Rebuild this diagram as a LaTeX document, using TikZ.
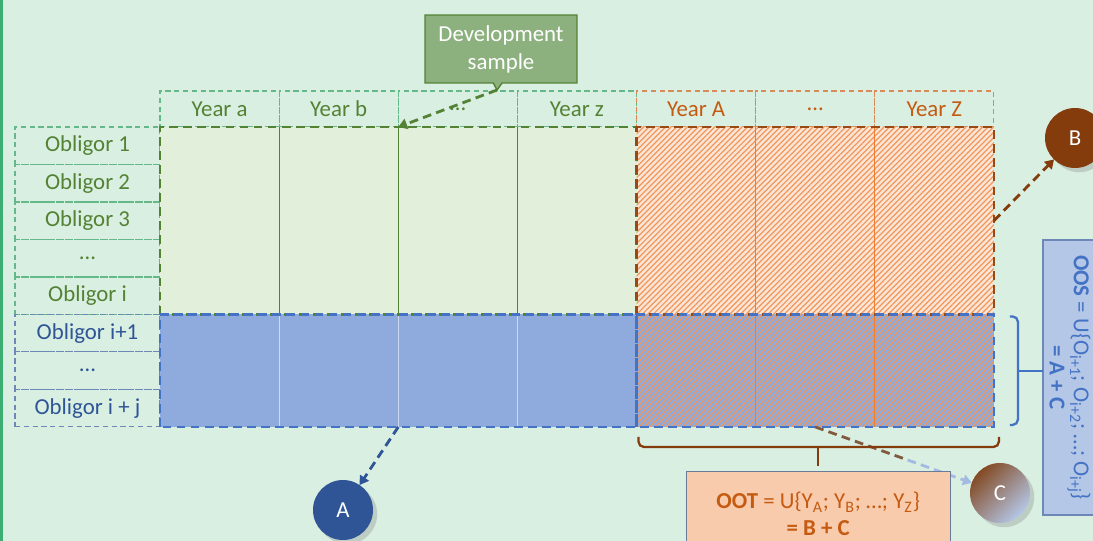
\documentclass[tikz,border=0pt]{standalone}
\usepackage{fontspec}
\setmainfont{Carlito}
\usetikzlibrary{chains,positioning,fit,calc,arrows.meta,patterns.meta,shapes.callouts,shadows}

\definecolor{bgmint}{HTML}{D9EFE1}
\definecolor{stripe}{HTML}{3DAE72}
\definecolor{grntxt}{HTML}{548235}
\definecolor{grnline}{HTML}{3FA66B}
\definecolor{grnfill}{HTML}{E2EFDA}
\definecolor{devfill}{HTML}{8DB17E}
\definecolor{blufill}{HTML}{8FAADC}
\definecolor{bluline}{HTML}{4472C4}
\definecolor{bludark}{HTML}{2F5597}
\definecolor{oosfill}{HTML}{B4C7E7}
\definecolor{orgtxt}{HTML}{C55A11}
\definecolor{orgline}{HTML}{ED7D31}
\definecolor{orgfill}{HTML}{FBE5D6}
\definecolor{ootfill}{HTML}{F8CBAD}
\definecolor{brn}{HTML}{843C0C}

\begin{document}
\begin{tikzpicture}[
	x=0.02cm, y=-0.02cm,
	every node/.style={font=\fontsize{13}{15}\selectfont, inner sep=0pt, outer sep=0pt},
	node distance=0pt,
	hdr/.style={
		on chain, draw,
		dash pattern=on 3pt off 2pt, line width=0.6pt,
		minimum width=2.383cm, minimum height=0.72cm,
	},
	yeargrn/.style={hdr, draw=grnline!80, text=grntxt},
	yearorg/.style={hdr, draw=orgtxt!70, text=orgtxt},
	obl/.style={
		on chain, draw,
		dash pattern=on 3pt off 2pt, line width=0.6pt,
		minimum width=2.9cm, minimum height=0.75cm,
	},
	oblgrn/.style={obl, draw=grnline!80, text=grntxt},
	oblblu/.style={obl, draw=bludark!70, text=bludark},
	region/.style={fit=#1, inner sep=0pt},
	rimline/.style={dash pattern=on 5pt off 3pt, line width=1.4pt},
	hatch/.style={pattern={Lines[angle=45,distance=2.2pt,line width=0.7pt]}, pattern color=orgline!80},
	circ/.style={circle, minimum size=1.2cm, text=white, drop shadow={opacity=0.3}},
	ptr/.style={dash pattern=on 5pt off 3pt, line width=1.6pt, -{Triangle[length=5pt,width=6pt]}},
	bracketline/.style={line width=1.3pt, rounded corners=3pt},
]

\useasboundingbox (0,0) rectangle (1093,541);
\clip (0,0) rectangle (1093,541);
\fill[bgmint] (0,0) rectangle (1093,541);
\fill[stripe] (0,0) rectangle (3,541);

% Year header, chain going right
\begin{scope}[start chain=yrs going right]
\node [yeargrn] (ya) at (219.57,109) {Year a};
\node [yeargrn] (yb) {Year b};
\node [yeargrn] (yd1) {\dots};
\node [yeargrn] (yz) {Year z};
\node [yearorg] (yA) {Year A};
\node [yearorg] (yd2) {\dots};
\node [yearorg] (yZ) {Year Z};
\end{scope}

% Obligor column, chain going below
\begin{scope}[start chain=obls going below]
\node [oblgrn] (o1) at (87.5,145.75) {Obligor 1};
\node [oblgrn] (o2) {Obligor 2};
\node [oblgrn] (o3) {Obligor 3};
\node [oblgrn] (od1) {\dots};
\node [oblgrn] (oi) {Obligor i};
\node [oblblu] (oi1) {Obligor i+1};
\node [oblblu] (od2) {\dots};
\node [oblblu] (oij) {Obligor i + j};
\end{scope}

% Sample areas
\node [region={(ya.south west)(yz.south east |- oi.south)}, fill=grnfill] (devreg) {};
\node [region={(ya.west |- oi1.north)(yz.east |- oij.south)}, fill=blufill] (oosreg) {};
\node [region={(yA.south west)(yZ.south east |- oi.south)}, preaction={fill=orgfill}, hatch] (ootreg) {};
\node [region={(yA.west |- oi1.north)(yZ.east |- oij.south)}, preaction={fill=blufill}, hatch] (ovlreg) {};

% Column lines
\draw[grntxt, line width=0.6pt] (yb.south west) -- (yb.west |- devreg.south);
\draw[grntxt, line width=0.6pt] (yd1.south west) -- (yd1.west |- devreg.south);
\draw[grntxt, line width=0.6pt] (yz.south west) -- (yz.west |- devreg.south);
\draw[white!55!blufill, line width=0.6pt] (yb.west |- oosreg.north) -- (yb.west |- oosreg.south);
\draw[white!55!blufill, line width=0.6pt] (yd1.west |- oosreg.north) -- (yd1.west |- oosreg.south);
\draw[white!55!blufill, line width=0.6pt] (yz.west |- oosreg.north) -- (yz.west |- oosreg.south);
\draw[orgline, line width=0.6pt] (yd2.south west) -- (yd2.west |- ovlreg.south);
\draw[orgline, line width=0.6pt] (yZ.south west) -- (yZ.west |- ovlreg.south);

% Area borders
\draw[rimline, grntxt] (devreg.south west) rectangle (devreg.north east);
\draw[rimline, brn!80!orgline] (ootreg.south west) rectangle (ootreg.north east);
\draw[rimline, bluline] (oosreg.south west) rectangle (oosreg.north east);
\draw[rimline, bluline] (ovlreg.south west) rectangle (ovlreg.north east);

% Development sample callout
\node [
	rectangle callout,
	callout absolute pointer={(497,90)},
	callout pointer width=5pt,
	fill=devfill, draw=grntxt, line width=0.8pt,
	text=white, align=center,
	font=\fontsize{13}{16}\selectfont,
	minimum width=3.04cm, minimum height=1.36cm,
] (dev) at (501,49) {Development\\sample};
\draw[ptr, grntxt] (dev.pointer) -- (yb.south east);

% Circles
\node [circ, fill=brn] (B) at (1075,138) {B};
\node [circ, fill=bludark] (A) at (343,510) {A};
\node [circ, top color=brn!80!gray, bottom color=oosfill, shading angle=45] (C) at (1000,493) {C};

\draw[ptr, brn] (ootreg.east) -- (B);
\draw[ptr, bludark] (oosreg.south) -- (A);
\draw[rimline, line width=1.6pt, brn!55!gray] (ovlreg.south) -- ($(ovlreg.south)!0.5!(C)$) coordinate (cmid);
\draw[ptr, oosfill!85!bluline] (cmid) -- (C);

% OOT bracket and box
\draw[bracketline, brn] ($(ovlreg.south west)+(2,10)$) |- ($(ovlreg.south east)+(5,20)$) -- ++(0,-10);
\draw[bracketline, brn] ($(ovlreg.south)+(3,20)$) -- ++(0,19) coordinate (brb);
\node [
	anchor=north,
	fill=ootfill, draw=bluline!35!gray, line width=0.6pt,
	text=orgtxt, align=center,
	font=\fontsize{13}{15}\selectfont,
	minimum width=5.28cm, minimum height=1.68cm,
] (oot) at ($(brb)+(0,6)$) {\textbf{OOT} = U\{Y\textsubscript{A}; Y\textsubscript{B}; \dots; Y\textsubscript{Z}\}\\\textbf{= B + C}};

% OOS bracket and box
\node [
	rotate=-90,
	fill=oosfill, draw=bludark!70, line width=0.8pt,
	text=bluline, align=center,
	font=\fontsize{13}{13.8}\selectfont,
	minimum width=5.5cm, minimum height=1.08cm,
] (oos) at (1070,377.5) {\textbf{OOS} = U\{O\textsubscript{i+1}; O\textsubscript{i+2}; \dots; O\textsubscript{i+j}\}\\\textbf{= A + C}};
\draw[bracketline, bluline] ($(ovlreg.north east)+(16,2)$) -| ($(ovlreg.south east)+(24,-2)$) -- ++(-8,0);
\draw[bracketline, bluline] ($(ovlreg.east)+(24,0)$) -- (oos.south |- ovlreg.east);

\end{tikzpicture}
\end{document}
